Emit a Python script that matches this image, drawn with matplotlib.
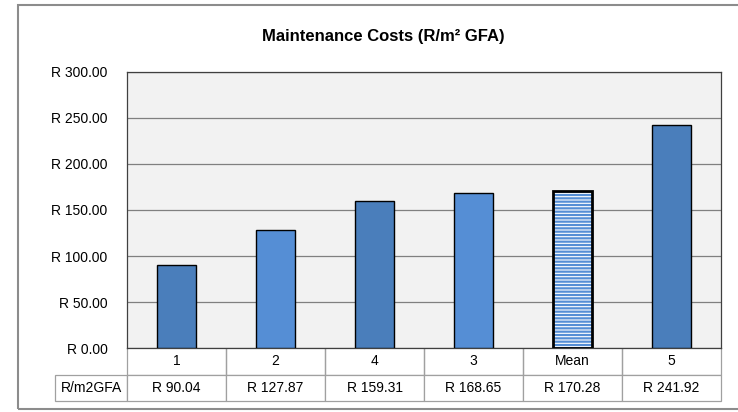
import matplotlib.pyplot as plt
from matplotlib.patches import Rectangle

# Chart data
categories = ["1", "2", "4", "3", "Mean", "5"]
values = [90.04, 127.87, 159.31, 168.65, 170.28, 241.92]
row_label = "R/m2GFA"
value_labels = ["R 90.04", "R 127.87", "R 159.31", "R 168.65", "R 170.28", "R 241.92"]
y_ticks = [0, 50, 100, 150, 200, 250, 300]

plt.rcParams["font.family"] = ["Liberation Sans", "DejaVu Sans"]
plt.rcParams["hatch.linewidth"] = 1.6

fig = plt.figure(figsize=(7.38, 4.12), dpi=100)
fig.patch.set_facecolor("white")

# outer chart border
fig.patches.append(Rectangle((18 / 738, 3 / 412), 730 / 738, 404 / 412,
                             transform=fig.transFigure, fill=False,
                             edgecolor="#8c8c8c", linewidth=1.5))

ax = fig.add_axes([127 / 738, 64 / 412, 594 / 738, 276 / 412])
ax.set_facecolor("#F2F2F2")

dark = "#4A7EBB"
light = "#558ED5"
for i, (cat, v) in enumerate(zip(categories, values)):
    if cat == "Mean":
        ax.bar(i, v, width=0.4, color="white", edgecolor=light, hatch="-----",
               linewidth=0, zorder=3)
        ax.bar(i, v, width=0.4, fill=False, edgecolor="black", linewidth=2, zorder=4)
    else:
        col = dark if cat in ("1", "4", "5") else light
        ax.bar(i, v, width=0.4, color=col, edgecolor="black", linewidth=1, zorder=3)

ax.set_xlim(-0.5, len(categories) - 0.5)
ax.set_ylim(0, 300)
ax.set_yticks(y_ticks)
ax.set_yticklabels(["R %.2f" % t for t in y_ticks], fontsize=10)
ax.tick_params(axis="y", length=0, pad=14)
ax.set_xticks([])
ax.yaxis.grid(True, color="#808080", linewidth=0.9, zorder=0)
ax.set_axisbelow(True)
for s in ax.spines.values():
    s.set_color("#404040")
    s.set_linewidth(0.9)

# data table below the axes
cell_text = [[""] + categories, [row_label] + value_labels]
col_widths = [72 / 594] + [99 / 594] * len(categories)
tbl = ax.table(cellText=cell_text, colWidths=col_widths, cellLoc="center",
               bbox=[-72 / 594, -53 / 276, 1 + 72 / 594, 53 / 276])
tbl.auto_set_font_size(False)
for (r, c), cell in tbl.get_celld().items():
    cell.set_edgecolor("#a0a0a0")
    cell.set_linewidth(0.9)
    cell.set_fontsize(10)
    if r == 0 and c == 0:
        cell.visible_edges = ""
    elif r == 0:
        cell.visible_edges = "BLR"

fig.text(383 / 738, 1 - 36 / 412, "Maintenance Costs (R/m² GFA)",
         ha="center", va="center", fontsize=12, fontweight="bold")

fig.savefig("out.png", dpi=100)
